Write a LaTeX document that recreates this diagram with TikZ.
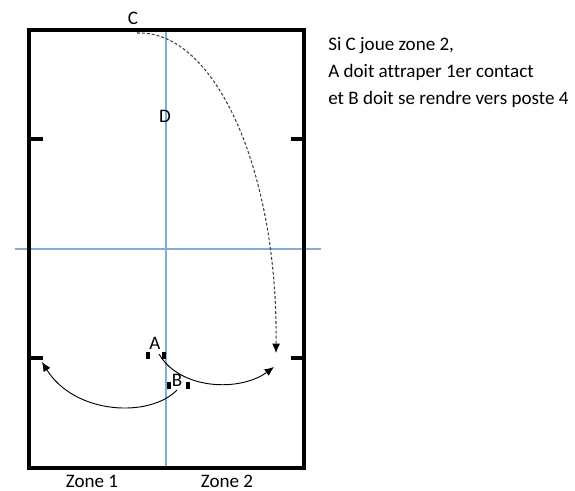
\documentclass[tikz,border=0pt]{standalone}
\usepackage{fontspec}
\setmainfont{Carlito}[Ligatures=NoCommon]
\usetikzlibrary{arrows.meta,positioning}
\definecolor{axisblue}{HTML}{7FAEDB}

\begin{document}
\begin{tikzpicture}[
    x=0.75pt, y=-0.75pt,
    court/.style={line width=2.4pt},
    axis/.style={draw=axisblue, line width=0.8pt},
    spot/.style={line width=2.4pt},
    move/.style={-{Latex[length=7pt,width=6pt,black]}, line width=0.7pt},
    lbl/.style={font=\fontsize{14.3}{17}\selectfont, inner sep=0pt},
]
  \useasboundingbox (0,0) rectangle (575,490);

  % axes
  \draw[axis] (166,30) -- (166,468);
  \draw[axis] (15,249) -- (321,249);

  % court
  \draw[court] (29,30) rectangle (304,468);
  \draw[spot] (31,139) -- (43,139);
  \draw[spot] (31,358) -- (43,358);
  \draw[spot] (291,139) -- (302,139);
  \draw[spot] (291,358) -- (302,358);

  % players
  \draw[spot] (148,352) -- (148,359);
  \draw[spot] (164,352) -- (164,359);
  \draw[spot] (169,382) -- (169,389);
  \draw[spot] (188,382) -- (188,389);
  \node[lbl] (pA) at (155,343) {A};
  \node[lbl] (pB) at (177,380) {B};
  \node[lbl] (pC) at (133,18) {C};
  \node[lbl] (pD) at (165,116) {D};

  % moves
  \coordinate (cStart) at (137,33);
  \coordinate (cEnd) at (276,353);
  \coordinate (aStart) at (159,354);
  \coordinate (aEnd) at (274,367);
  \coordinate (bStart) at (177,390);
  \coordinate (bEnd) at (42,362);
  \draw[move, draw=black!75, line width=0.8pt, dash pattern=on 2.2pt off 1.5pt] (cStart) .. controls (215,30) and (278,170) .. (cEnd);
  \draw[move] (aStart) .. controls (180,390) and (240,392) .. (aEnd);
  \draw[move] (bStart) .. controls (150,418) and (75,415) .. (bEnd);

  % texts
  \node[lbl, anchor=base] (zone1) at (92,487) {Zone 1};
  \node[lbl, anchor=base] (zone2) at (227,487) {Zone 2};
  \node[lbl, anchor=north west, align=left, font=\fontsize{14.3}{20.25}\selectfont]
    (note) at (328,37) {Si C joue zone 2,\\A doit attraper 1er contact\\et B doit se rendre vers poste 4};
\end{tikzpicture}
\end{document}
